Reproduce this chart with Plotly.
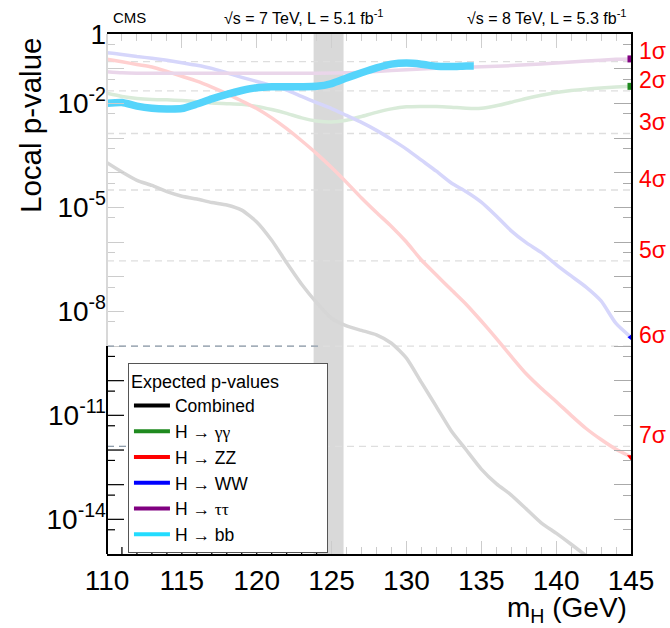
import numpy as np
import plotly.graph_objects as go

# ---------------- data (local p-values) ----------------
mass = list(range(110, 146))  # 110 ... 145 GeV

p_gg = [1.95e-2, 1.58e-2, 1.38e-2, 1.29e-2, 1.26e-2, 1.20e-2, 1.12e-2, 1.02e-2, 9.77e-3, 9.33e-3,
        8.13e-3, 6.61e-3, 5.13e-3, 3.80e-3, 3.09e-3, 2.88e-3, 3.24e-3, 4.17e-3, 5.50e-3, 6.92e-3,
        7.94e-3, 8.13e-3, 8.13e-3, 7.76e-3, 7.24e-3, 7.24e-3, 8.51e-3, 1.07e-2, 1.38e-2, 1.70e-2,
        2.04e-2, 2.34e-2, 2.57e-2, 2.75e-2, 2.95e-2, 3.09e-2]

p_ww = [0.288, 0.257, 0.224, 0.200, 0.174, 0.148, 0.126, 0.102, 7.59e-2, 5.62e-2,
        4.27e-2, 3.24e-2, 2.40e-2, 1.58e-2, 1.05e-2, 7.08e-3, 4.47e-3, 2.82e-3, 1.66e-3, 9.12e-4,
        4.79e-4, 2.29e-4, 1.10e-4, 5.01e-5, 2.82e-5, 1.41e-5, 5.62e-6, 2.09e-6, 9.55e-7, 5.01e-7,
        2.24e-7, 1.05e-7, 5.01e-8, 2.00e-8, 4.47e-9, 1.78e-9]

p_zz = [0.186, 0.158, 0.132, 0.112, 8.32e-2, 6.03e-2, 4.37e-2, 2.95e-2, 1.91e-2, 1.17e-2,
        7.08e-3, 3.80e-3, 1.86e-3, 8.32e-4, 3.55e-4, 1.41e-4, 5.25e-5, 1.86e-5, 7.08e-6, 2.82e-6,
        1.00e-6, 3.02e-7, 1.12e-7, 4.17e-8, 1.58e-8, 5.25e-9, 1.66e-9, 5.01e-10, 1.58e-10, 6.03e-11,
        2.51e-11, 1.00e-11, 4.17e-12, 2.00e-12, 1.05e-12, 6.31e-13]

mass_comb = list(range(110, 143))
p_comb = [1.95e-4, 1.05e-4, 6.03e-5, 4.27e-5, 2.82e-5, 2.09e-5, 1.74e-5, 1.38e-5, 1.17e-5, 8.32e-6,
          3.80e-6, 1.12e-6, 2.51e-7, 6.03e-8, 1.78e-8, 6.31e-9, 3.80e-9, 2.82e-9, 2.09e-9, 1.20e-9,
          4.47e-10, 8.91e-11, 1.78e-11, 3.55e-12, 1.00e-12, 2.82e-13, 1.07e-13, 5.01e-14, 2.00e-14,
          7.94e-15, 3.98e-15, 1.91e-15, 8.91e-16]

mass_tt = [110, 111, 112, 114, 116, 118, 120, 122, 124, 126, 128, 130, 132, 134, 136, 138, 140, 142, 144, 145]
p_tt = [8.13e-2, 7.59e-2, 7.41e-2, 7.41e-2, 7.41e-2, 7.41e-2, 7.41e-2, 7.41e-2, 7.41e-2, 7.59e-2,
        8.32e-2, 9.33e-2, 0.102, 0.110, 0.117, 0.129, 0.145, 0.166, 0.186, 0.191]

mass_bb = [110, 111, 112, 113, 114, 115, 116, 117, 118, 119, 120, 121, 122, 123, 124, 125,
           126, 127, 128, 129, 130, 131, 132, 133, 134, 134.5]
p_bb = [1.00e-2, 1.05e-2, 8.32e-3, 7.24e-3, 6.92e-3, 7.08e-3, 9.55e-3, 1.35e-2, 1.82e-2, 2.34e-2,
        2.82e-2, 3.02e-2, 3.02e-2, 3.02e-2, 3.09e-2, 3.72e-2, 5.37e-2, 7.59e-2, 0.105, 0.135,
        0.145, 0.135, 0.117, 0.115, 0.120, 0.120]

band = [123.8, 125.8]  # shaded mass window

sigma_names = ["1σ", "2σ", "3σ", "4σ", "5σ", "6σ", "7σ"]
sigma_p = [0.1587, 2.275e-2, 1.350e-3, 3.167e-5, 2.867e-7, 9.866e-10, 1.280e-12]

y_tick_vals = [1e0, 1e-1, 1e-2, 1e-3, 1e-4, 1e-5, 1e-6, 1e-7, 1e-8, 1e-9, 1e-10, 1e-11, 1e-12, 1e-13, 1e-14]
y_tick_text = ["1", "", "10<sup>-2</sup>", "", "", "10<sup>-5</sup>", "", "", "10<sup>-8</sup>", "", "",
               "10<sup>-11</sup>", "", "", "10<sup>-14</sup>"]
x_tick_vals = [110, 115, 120, 125, 130, 135, 140, 145]

# ---------------- styling ----------------
FONT = "Liberation Sans"
faded = {"comb": "#d6d6d6", "gg": "#d9ebd9", "zz": "#ffd0d0", "ww": "#d6d6fb", "tt": "#ead6ea"}
solid = {"comb": "#000000", "gg": "#1f8a1f", "zz": "#ff0000", "ww": "#0000ff", "tt": "#800080", "bb": "#22dcff"}
BB_COLOR = "#55d4fb"

fig = go.Figure()

def curve(x, y, color, width):
    fig.add_trace(go.Scatter(x=x, y=y, mode="lines", line=dict(color=color, width=width, shape="spline", smoothing=0.6),
                             showlegend=False, hoverinfo="skip"))

curve(mass_comb, p_comb, faded["comb"], 3.5)
curve(mass, p_gg, faded["gg"], 3.5)
curve(mass, p_zz, faded["zz"], 3.5)
curve(mass, p_ww, faded["ww"], 3.5)
curve(mass_tt, p_tt, faded["tt"], 3.5)
curve(mass_bb, p_bb, BB_COLOR, 7.5)

# end markers at the right edge
ends = [(mass_tt[-1], p_tt[-1], solid["tt"], "square"),
        (mass[-1], p_gg[-1], solid["gg"], "square"),
        (mass[-1], p_ww[-1], solid["ww"], "triangle-left"),
        (mass[-1], p_zz[-1], solid["zz"], "triangle-down")]
for ex, ey, ec, es in ends:
    fig.add_trace(go.Scatter(x=[ex], y=[ey], mode="markers", marker=dict(color=ec, symbol=es, size=7),
                             showlegend=False, hoverinfo="skip"))

# legend entries
SERIF = "<span style=\"font-family:'Liberation Serif'\">"
legend_entries = [("Combined", solid["comb"]),
                  ("H → " + SERIF + "γγ</span>", solid["gg"]),
                  ("H → ZZ", solid["zz"]),
                  ("H → WW", solid["ww"]),
                  ("H → " + SERIF + "ττ</span>", solid["tt"]),
                  ("H → bb", solid["bb"])]
for name, col in legend_entries:
    fig.add_trace(go.Scatter(x=[None], y=[None], mode="lines", line=dict(color=col, width=4), name=name))

# helper traces for auxiliary axes
fig.add_trace(go.Scatter(x=[None], y=[None], xaxis="x2", yaxis="y", showlegend=False, hoverinfo="skip"))
fig.add_trace(go.Scatter(x=[None], y=[None], xaxis="x", yaxis="y2", showlegend=False, hoverinfo="skip"))
fig.add_trace(go.Scatter(x=[None], y=[None], xaxis="x", yaxis="y3", showlegend=False, hoverinfo="skip"))

shapes = []
# mass band
shapes.append(dict(type="rect", xref="x", yref="paper", x0=band[0], x1=band[1], y0=0, y1=1,
                   fillcolor="#d9d9d9", line=dict(width=0), layer="below"))
# sigma lines
log_sig = np.log10(sigma_p)
for ls in log_sig:
    shapes.append(dict(type="line", xref="paper", yref="y2", x0=0, x1=1, y0=ls, y1=ls,
                       line=dict(color="#dedede", width=1.3, dash="7px,5px"), layer="below"))
for ls in log_sig[5:]:
    shapes.append(dict(type="line", xref="x", yref="y2", x0=110, x1=124.4, y0=ls, y1=ls,
                       line=dict(color="#8d9cab", width=1.3, dash="7px,5px"), layer="above"))
# left frame line: faded upper part, dark lower part
shapes.append(dict(type="line", xref="paper", yref="y2", x0=0, x1=0, y0=-9, y1=0,
                   line=dict(color="#d8d8d8", width=2), layer="above"))
shapes.append(dict(type="line", xref="paper", yref="y2", x0=0, x1=0, y0=-15, y1=-9,
                   line=dict(color="#000000", width=2), layer="above"))
# dark ticks in the unfaded corner
for n in range(-14, -9):
    shapes.append(dict(type="line", xref="paper", xsizemode="pixel", xanchor=0, x0=0, x1=17,
                       yref="y2", y0=n, y1=n, line=dict(color="#000", width=1.2), layer="above"))
for n in range(-14, -8):
    shapes.append(dict(type="line", xref="paper", xsizemode="pixel", xanchor=0, x0=0, x1=8,
                       yref="y2", y0=n - 0.301, y1=n - 0.301, line=dict(color="#000", width=1.2), layer="above"))
for m in range(110, 125):
    ln = 13 if m % 5 == 0 else 7
    shapes.append(dict(type="line", xref="x", x0=m, x1=m, yref="paper", ysizemode="pixel", yanchor=0,
                       y0=0, y1=ln, line=dict(color="#000", width=1.2), layer="above"))

annotations = []
for name, ls in zip(sigma_names, log_sig):
    annotations.append(dict(text=name, xref="paper", yref="y2", x=1, y=ls, xanchor="left", yanchor="middle",
                            xshift=6, yshift=11, showarrow=False, font=dict(family=FONT, size=23, color="#ff0000")))
annotations += [
    dict(text="CMS", xref="paper", yref="paper", x=0, y=1, xanchor="left", yanchor="middle", xshift=4, yshift=17,
         showarrow=False, font=dict(family=FONT, size=15, color="#000")),
    dict(text="√s = 7 TeV, L = 5.1 fb<sup>-1</sup>", xref="paper", yref="paper", x=0.2195, y=1, xanchor="left",
         yanchor="middle", yshift=17, showarrow=False, font=dict(family=FONT, size=16, color="#000")),
    dict(text="√s = 8 TeV, L = 5.3 fb<sup>-1</sup>", xref="paper", yref="paper", x=1, y=1, xanchor="right",
         yanchor="middle", xshift=-2, yshift=17, showarrow=False, font=dict(family=FONT, size=16, color="#000")),
    dict(text="Local p-value", xref="paper", yref="paper", x=0, y=1, xanchor="center", yanchor="middle",
         xshift=-77, yshift=-92, textangle=-90, showarrow=False, font=dict(family=FONT, size=29.5, color="#000")),
    dict(text="m<sub>H</sub> (GeV)", xref="paper", yref="paper", x=1, y=0, xanchor="right", yanchor="middle",
         xshift=-2, yshift=-55, showarrow=False, font=dict(family=FONT, size=28, color="#000")),
]

PAD = "&nbsp;" * 9
fig.update_layout(
    width=670, height=628,
    margin=dict(l=107, r=39, t=34, b=74),
    paper_bgcolor="white", plot_bgcolor="white",
    font=dict(family=FONT, color="#000"),
    showlegend=True,
    legend=dict(x=0.04, y=0.367, xanchor="left", yanchor="top", bgcolor="white",
                bordercolor="#555555", borderwidth=1, font=dict(family=FONT, size=17.5, color="#000"),
                title=dict(text="Expected p-values" + PAD, font=dict(family=FONT, size=18, color="#000")),
                itemwidth=36, tracegroupgap=0),
    xaxis=dict(range=[110, 145], tickvals=x_tick_vals, ticks="inside", ticklen=13, tickcolor="#cccccc",
               tickwidth=1.2, showgrid=False, zeroline=False, showline=True, linecolor="#000", linewidth=2,
               tickfont=dict(family=FONT, size=28, color="#000"),
               minor=dict(dtick=1, ticks="inside", ticklen=7, tickcolor="#cccccc", tickwidth=1.2)),
    xaxis2=dict(range=[110, 145], overlaying="x", side="top", anchor="y", tickvals=x_tick_vals, ticks="inside",
                ticklen=14, tickcolor="#cfcfcf", tickwidth=1.2, showticklabels=False, showgrid=False,
                zeroline=False, showline=True, linecolor="#000", linewidth=2,
                minor=dict(dtick=1, ticks="inside", ticklen=7, tickcolor="#cfcfcf", tickwidth=1.2)),
    yaxis=dict(type="log", range=[-15, 0], tickvals=y_tick_vals, ticktext=y_tick_text, ticks="inside",
               ticklen=17, tickcolor="#cccccc", tickwidth=1.2, showgrid=False, zeroline=False, showline=False,
               tickfont=dict(family=FONT, size=28, color="#000"),
               minor=dict(tickvals=[v * 0.5 for v in y_tick_vals], ticks="inside", ticklen=8,
                          tickcolor="#cccccc", tickwidth=1.2)),
    yaxis2=dict(range=[-15, 0], overlaying="y", visible=False),
    yaxis3=dict(type="log", range=[-15, 0], overlaying="y", side="right", anchor="x", tickvals=y_tick_vals,
                ticks="inside", ticklen=17, tickcolor="#aaaaaa", tickwidth=1.2, showticklabels=False,
                showgrid=False, zeroline=False, showline=True, linecolor="#000", linewidth=2,
                minor=dict(tickvals=[v * 0.5 for v in y_tick_vals], ticks="inside", ticklen=8,
                           tickcolor="#aaaaaa", tickwidth=1.2)),
    shapes=shapes,
    annotations=annotations,
)

fig.write_html("out.html")
